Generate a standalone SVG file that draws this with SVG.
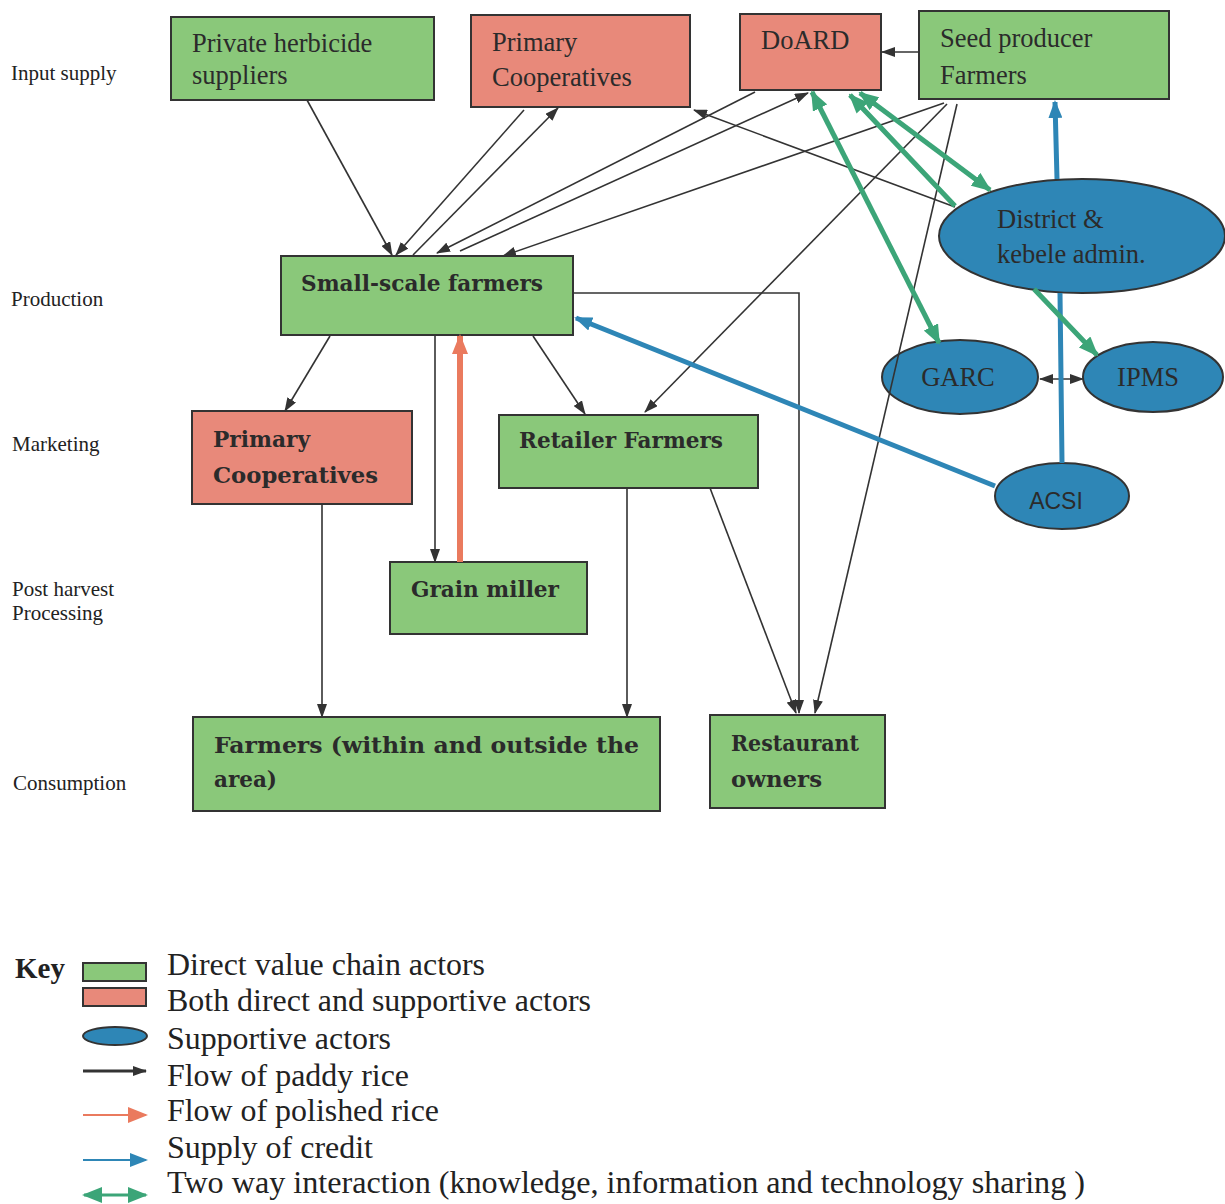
<svg xmlns="http://www.w3.org/2000/svg" width="1225" height="1204" viewBox="0 0 1225 1204">
<style>
.g{fill:#8AC87A;stroke:#333;stroke-width:2}
.s{fill:#E8897A;stroke:#333;stroke-width:2}
.b{fill:#2E86B6;stroke:#333;stroke-width:2}
.t{font-family:"Liberation Serif","Times New Roman",serif;font-size:26.5px;fill:#2b2b2b}
.sl{font-family:"DejaVu Serif Condensed","DejaVu Serif",serif;font-weight:bold;font-size:22px;fill:#2b2b2b}
.lab{font-family:"Liberation Serif","Times New Roman",serif;font-size:21px;fill:#222}
.key{font-family:"Liberation Serif","Times New Roman",serif;font-size:31px;fill:#222}
.bk{fill:none;stroke:#333;stroke-width:1.6}
.bl{fill:none;stroke:#2E86B6;stroke-width:5}
.gr{fill:none;stroke:#3CA578;stroke-width:5}
.or{fill:none;stroke:#EA7A5E;stroke-width:6}
</style>
<defs>
<marker id="ab" viewBox="0 0 14 10" refX="13" refY="5" markerWidth="14" markerHeight="10" markerUnits="userSpaceOnUse" orient="auto-start-reverse"><path d="M0,0 L14,5 L0,10 z" fill="#333"/></marker>
<marker id="abl" viewBox="0 0 18 14" refX="16" refY="7" markerWidth="18" markerHeight="14" markerUnits="userSpaceOnUse" orient="auto-start-reverse"><path d="M0,0 L18,7 L0,14 z" fill="#2E86B6"/></marker>
<marker id="agr" viewBox="0 0 20 16" refX="18" refY="8" markerWidth="20" markerHeight="16" markerUnits="userSpaceOnUse" orient="auto-start-reverse"><path d="M0,0 L20,8 L0,16 z" fill="#3CA578"/></marker>
<marker id="aor" viewBox="0 0 20 16" refX="18" refY="8" markerWidth="20" markerHeight="16" markerUnits="userSpaceOnUse" orient="auto-start-reverse"><path d="M0,0 L20,8 L0,16 z" fill="#EA7A5E"/></marker>
</defs>
<rect width="1225" height="1204" fill="#fff"/>

<g id="stage-labels">
<text class="lab" x="11" y="80">Input supply</text>
<text class="lab" x="11" y="306">Production</text>
<text class="lab" x="12" y="451">Marketing</text>
<text class="lab" x="12" y="596">Post harvest</text>
<text class="lab" x="12" y="620">Processing</text>
<text class="lab" x="13" y="790">Consumption</text>
</g>

<g id="n-herbicide"><rect class="g" x="171" y="17" width="263" height="83"/><text class="t" x="192" y="52">Private herbicide</text><text class="t" x="192" y="84">suppliers</text></g>
<g id="n-coop-top"><rect class="s" x="471" y="15" width="219" height="92"/><text class="t" x="492" y="51">Primary</text><text class="t" x="492" y="86">Cooperatives</text></g>
<g id="n-doard"><rect class="s" x="740" y="14" width="141" height="76"/><text class="t" x="761" y="49">DoARD</text></g>
<g id="n-seed"><rect class="g" x="919" y="11" width="250" height="88"/><text class="t" x="940" y="47">Seed producer</text><text class="t" x="940" y="84">Farmers</text></g>
<g id="n-district"><ellipse class="b" cx="1082" cy="236" rx="143" ry="57"/><text class="t" x="997" y="228">District &amp;</text><text class="t" x="997" y="263">kebele admin.</text></g>
<g id="n-smallscale"><rect class="g" x="281" y="256" width="292" height="79"/><text class="sl" x="301" y="291" textLength="242" lengthAdjust="spacingAndGlyphs">Small-scale farmers</text></g>
<g id="n-garc"><ellipse class="b" cx="960" cy="377" rx="78" ry="37"/><text class="t" x="958" y="386" text-anchor="middle">GARC</text></g>
<g id="n-ipms"><ellipse class="b" cx="1153" cy="377" rx="70" ry="35"/><text class="t" x="1148" y="386" text-anchor="middle">IPMS</text></g>
<g id="n-coop-mkt"><rect class="s" x="192" y="411" width="220" height="93"/><text class="sl" x="213" y="447" textLength="97" lengthAdjust="spacingAndGlyphs">Primary</text><text class="sl" x="213" y="483" textLength="165" lengthAdjust="spacingAndGlyphs">Cooperatives</text></g>
<g id="n-retailer"><rect class="g" x="499" y="415" width="259" height="73"/><text class="sl" x="519" y="448" textLength="204" lengthAdjust="spacingAndGlyphs">Retailer Farmers</text></g>
<g id="n-acsi"><ellipse class="b" cx="1062" cy="496" rx="67" ry="33"/><text x="1056" y="509" text-anchor="middle" style="font-family:'Liberation Sans',Arial,sans-serif;font-size:23px;fill:#2b2b2b">ACSI</text></g>
<g id="n-miller"><rect class="g" x="390" y="562" width="197" height="72"/><text class="sl" x="411" y="597" textLength="148" lengthAdjust="spacingAndGlyphs">Grain miller</text></g>
<g id="n-farmers"><rect class="g" x="193" y="717" width="467" height="94"/><text class="sl" x="214" y="753" textLength="425" lengthAdjust="spacingAndGlyphs">Farmers (within and outside the</text><text class="sl" x="214" y="787" textLength="63" lengthAdjust="spacingAndGlyphs">area)</text></g>
<g id="n-restaurant"><rect class="g" x="710" y="715" width="175" height="93"/><text class="sl" x="731" y="751" textLength="128" lengthAdjust="spacingAndGlyphs">Restaurant</text><text class="sl" x="731" y="787" textLength="91" lengthAdjust="spacingAndGlyphs">owners</text></g>

<g id="connectors">
<path class="bk" d="M307,100 L392,255" marker-end="url(#ab)"/>
<path class="bk" d="M524,110 L396,255" marker-end="url(#ab)"/>
<path class="bk" d="M413,255 L558,108" marker-end="url(#ab)"/>
<path class="bk" d="M755,92 L437,253" marker-end="url(#ab)"/>
<path class="bk" d="M460,251 L808,93" marker-end="url(#ab)"/>
<path class="bk" d="M944,103 L503,256" marker-end="url(#ab)"/>
<path class="bk" d="M955,207 L694,110" marker-end="url(#ab)"/>
<path class="bk" d="M947,104 L645,412" marker-end="url(#ab)"/>
<path class="bk" d="M957,104 L815,713" marker-end="url(#ab)"/>
<path class="bk" d="M919,52 L882,52" marker-end="url(#ab)"/>
<path class="bk" d="M573,293 L799,293 L799,713" marker-end="url(#ab)"/>
<path class="bk" d="M330,336 L285,411" marker-end="url(#ab)"/>
<path class="bk" d="M435,336 L435,562" marker-end="url(#ab)"/>
<path class="bk" d="M533,336 L585,414" marker-end="url(#ab)"/>
<path class="bk" d="M322,504 L322,717" marker-end="url(#ab)"/>
<path class="bk" d="M627,488 L627,717" marker-end="url(#ab)"/>
<path class="bk" d="M710,488 L796,713" marker-end="url(#ab)"/>
<path class="bk" d="M1040,379 L1083,379" marker-start="url(#ab)" marker-end="url(#ab)"/>
<path class="or" d="M460,562 L460,336" marker-end="url(#aor)"/>
<path class="bl" d="M995,486 L576,318" marker-end="url(#abl)"/>
<path class="bl" d="M1062,463 L1060,293 M1057,179 L1055,102" marker-end="url(#abl)"/>
<path class="gr" d="M812,92 L939,343" marker-start="url(#agr)" marker-end="url(#agr)"/>
<path class="gr" d="M850,95 L955,206 M1034,289 L1097,355" marker-start="url(#agr)" marker-end="url(#agr)"/>
<path class="gr" d="M860,93 L990,190" marker-start="url(#agr)" marker-end="url(#agr)"/>
</g>

<g id="key">
<text x="15" y="978" style="font-family:'Liberation Serif','Times New Roman',serif;font-size:29px;font-weight:bold;fill:#222">Key</text>
<rect class="g" x="83" y="963" width="63" height="18"/>
<rect class="s" x="83" y="988" width="63" height="18"/>
<ellipse class="b" cx="115" cy="1036" rx="32" ry="9"/>
<path class="bk" d="M83,1071 L146,1071" style="stroke-width:3" marker-end="url(#ab)"/>
<path d="M83,1115 L146,1115" style="fill:none;stroke:#EA7A5E;stroke-width:2" marker-end="url(#aor)"/>
<path d="M83,1160 L146,1160" style="fill:none;stroke:#2E86B6;stroke-width:2" marker-end="url(#abl)"/>
<path d="M84,1195 L146,1195" style="fill:none;stroke:#3CA578;stroke-width:3" marker-start="url(#agr)" marker-end="url(#agr)"/>
<text class="key" x="167" y="975" textLength="318" lengthAdjust="spacingAndGlyphs">Direct value chain actors</text>
<text class="key" x="167" y="1011" textLength="424" lengthAdjust="spacingAndGlyphs">Both direct and supportive actors</text>
<text class="key" x="167" y="1049" textLength="224" lengthAdjust="spacingAndGlyphs">Supportive actors</text>
<text class="key" x="167" y="1086" textLength="242" lengthAdjust="spacingAndGlyphs">Flow of paddy rice</text>
<text class="key" x="167" y="1121" textLength="272" lengthAdjust="spacingAndGlyphs">Flow of polished rice</text>
<text class="key" x="167" y="1158" textLength="206" lengthAdjust="spacingAndGlyphs">Supply of credit</text>
<text class="key" x="167" y="1193" textLength="918" lengthAdjust="spacingAndGlyphs">Two way interaction (knowledge, information and technology sharing )</text>
</g>
</svg>
